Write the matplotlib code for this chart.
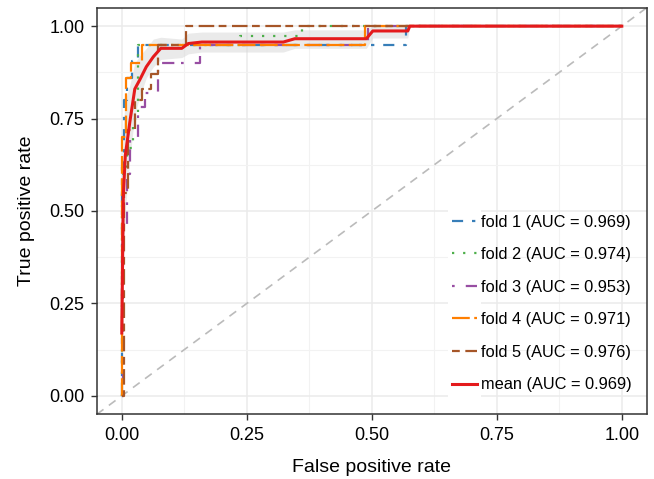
import numpy as np
import matplotlib
matplotlib.use("Agg")
from matplotlib import pyplot as plt
from matplotlib.ticker import MultipleLocator
from matplotlib.legend_handler import HandlerLine2D
from matplotlib.patches import Rectangle

plt.rcParams['font.family'] = ['Liberation Sans', 'DejaVu Sans']

# per-fold ROC steps
fold1_fpr = [0, 0, 0.005, 0.005, 0.01, 0.01, 0.02, 0.02, 0.033, 0.033, 0.569, 0.569, 1.0]
fold1_tpr = [0, 0.62, 0.62, 0.80, 0.80, 0.86, 0.86, 0.905, 0.905, 0.95, 0.95, 1.0, 1.0]

fold2_fpr = [0, 0, 0.01, 0.01, 0.022, 0.022, 0.033, 0.033, 0.236, 0.236, 0.36, 0.36, 1.0]
fold2_tpr = [0, 0.60, 0.60, 0.67, 0.67, 0.75, 0.75, 0.95, 0.95, 0.973, 0.973, 1.0, 1.0]

fold3_fpr = [0, 0.003, 0.003, 0.01, 0.01, 0.016, 0.016, 0.033, 0.033, 0.046, 0.046,
             0.073, 0.073, 0.156, 0.156, 0.492, 0.492, 1.0]
fold3_tpr = [0, 0, 0.45, 0.45, 0.60, 0.60, 0.70, 0.70, 0.78, 0.78, 0.82,
             0.82, 0.90, 0.90, 0.95, 0.95, 1.0, 1.0]

fold4_fpr = [0, 0, 0.008, 0.008, 0.018, 0.018, 0.04, 0.04, 0.486, 0.486, 1.0]
fold4_tpr = [0, 0.70, 0.70, 0.86, 0.86, 0.90, 0.90, 0.95, 0.95, 1.0, 1.0]

fold5_fpr = [0, 0.005, 0.005, 0.012, 0.012, 0.026, 0.026, 0.04, 0.04, 0.058, 0.058,
             0.073, 0.073, 0.128, 0.128, 1.0]
fold5_tpr = [0, 0, 0.55, 0.55, 0.72, 0.72, 0.80, 0.80, 0.83, 0.83, 0.87,
             0.87, 0.95, 0.95, 1.0, 1.0]

fold_auc = [0.969, 0.974, 0.953, 0.971, 0.976]

# mean curve and +-sd band
mean_fpr = [0, 0.003, 0.007, 0.016, 0.026, 0.036, 0.049, 0.063, 0.078, 0.12, 0.133,
            0.16, 0.323, 0.346, 0.489, 0.502, 0.572, 0.576, 1.0]
mean_tpr = [0.17, 0.54, 0.65, 0.74, 0.83, 0.855, 0.89, 0.917, 0.94, 0.94, 0.953,
            0.957, 0.957, 0.966, 0.966, 0.987, 0.987, 1.0, 1.0]
tpr_lo = [0.0, 0.35, 0.50, 0.64, 0.76, 0.81, 0.86, 0.89, 0.91, 0.915, 0.925,
          0.93, 0.93, 0.94, 0.94, 0.968, 0.968, 1.0, 1.0]
tpr_hi = [0.40, 0.73, 0.80, 0.84, 0.90, 0.92, 0.94, 0.965, 0.97, 0.965, 0.981,
          0.984, 0.984, 0.99, 0.99, 1.0, 1.0, 1.0, 1.0]
mean_auc = 0.969

folds = [(fold1_fpr, fold1_tpr), (fold2_fpr, fold2_tpr), (fold3_fpr, fold3_tpr),
         (fold4_fpr, fold4_tpr), (fold5_fpr, fold5_tpr)]
colors = ['#377EB8', '#4DAF4A', '#984EA3', '#FF7F00', '#A65628']
styles = [(0, (5, 4, 1.5, 4)), (0, (1, 4)), (0, (1.2, 5, 5.5, 3)),
          (0, (8, 2)), (0, (3.5, 2.5, 7, 2))]


# legend keys sit on a white box, the rest of the legend is see-through
class KeyHandler(HandlerLine2D):
    def create_artists(self, legend, orig_handle, xdescent, ydescent, width,
                       height, fontsize, trans):
        arts = super().create_artists(legend, orig_handle, xdescent, ydescent,
                                      width, height, fontsize, trans)
        cy = (height - ydescent) / 2
        bg = Rectangle((-xdescent - 2.9, cy - 12), width + 5.8, 24,
                       facecolor='white', edgecolor='none', transform=trans)
        return [bg] + list(arts)


fig = plt.figure(figsize=(6.54, 4.79), dpi=100)
ax = fig.add_axes([0.148, 0.135, 0.841, 0.849])

ax.axline((0, 0), (1, 1), color='#BBBBBB', lw=1.2, ls=(0, (5, 4)), zorder=1)
ax.fill_between(mean_fpr, tpr_lo, tpr_hi, color='#D9D9D9', alpha=0.55, lw=0, zorder=2)

for i, (f, t) in enumerate(folds):
    ax.plot(f, t, color=colors[i], ls=styles[i], lw=1.6, zorder=3,
            label='fold %d (AUC = %.3f)' % (i + 1, fold_auc[i]))
ax.plot(mean_fpr, mean_tpr, color='#E41A1C', lw=2.2, zorder=4,
        label='mean (AUC = %.3f)' % mean_auc)

ax.set_xlim(-0.05, 1.05)
ax.set_ylim(-0.05, 1.05)
ax.xaxis.set_major_locator(MultipleLocator(0.25))
ax.yaxis.set_major_locator(MultipleLocator(0.25))
ax.xaxis.set_minor_locator(MultipleLocator(0.125))
ax.yaxis.set_minor_locator(MultipleLocator(0.125))
ax.xaxis.set_major_formatter(lambda v, p: '%.2f' % v)
ax.yaxis.set_major_formatter(lambda v, p: '%.2f' % v)
ax.grid(True, which='major', color='#EBEBEB', lw=1.1, zorder=0)
ax.grid(True, which='minor', color='#F2F2F2', lw=0.8, zorder=0)
ax.set_axisbelow(True)
ax.tick_params(which='major', length=4, width=1, color='#333333', labelsize=13,
               labelcolor='black', pad=5)
ax.tick_params(which='minor', length=0)
for s in ax.spines.values():
    s.set_color('#333333')
    s.set_linewidth(1.1)

ax.set_xlabel('False positive rate', fontsize=14, labelpad=11)
ax.set_ylabel('True positive rate', fontsize=14, labelpad=10)

handles, labels = ax.get_legend_handles_labels()
leg = ax.legend(handles, labels, loc='lower right', fontsize=11.8, frameon=False,
                handlelength=1.55, handletextpad=0.25, labelspacing=1.07,
                borderpad=0.3, bbox_to_anchor=(0.997, 0.022),
                handler_map={h: KeyHandler() for h in handles})

fig.savefig('out.png', dpi=100)
